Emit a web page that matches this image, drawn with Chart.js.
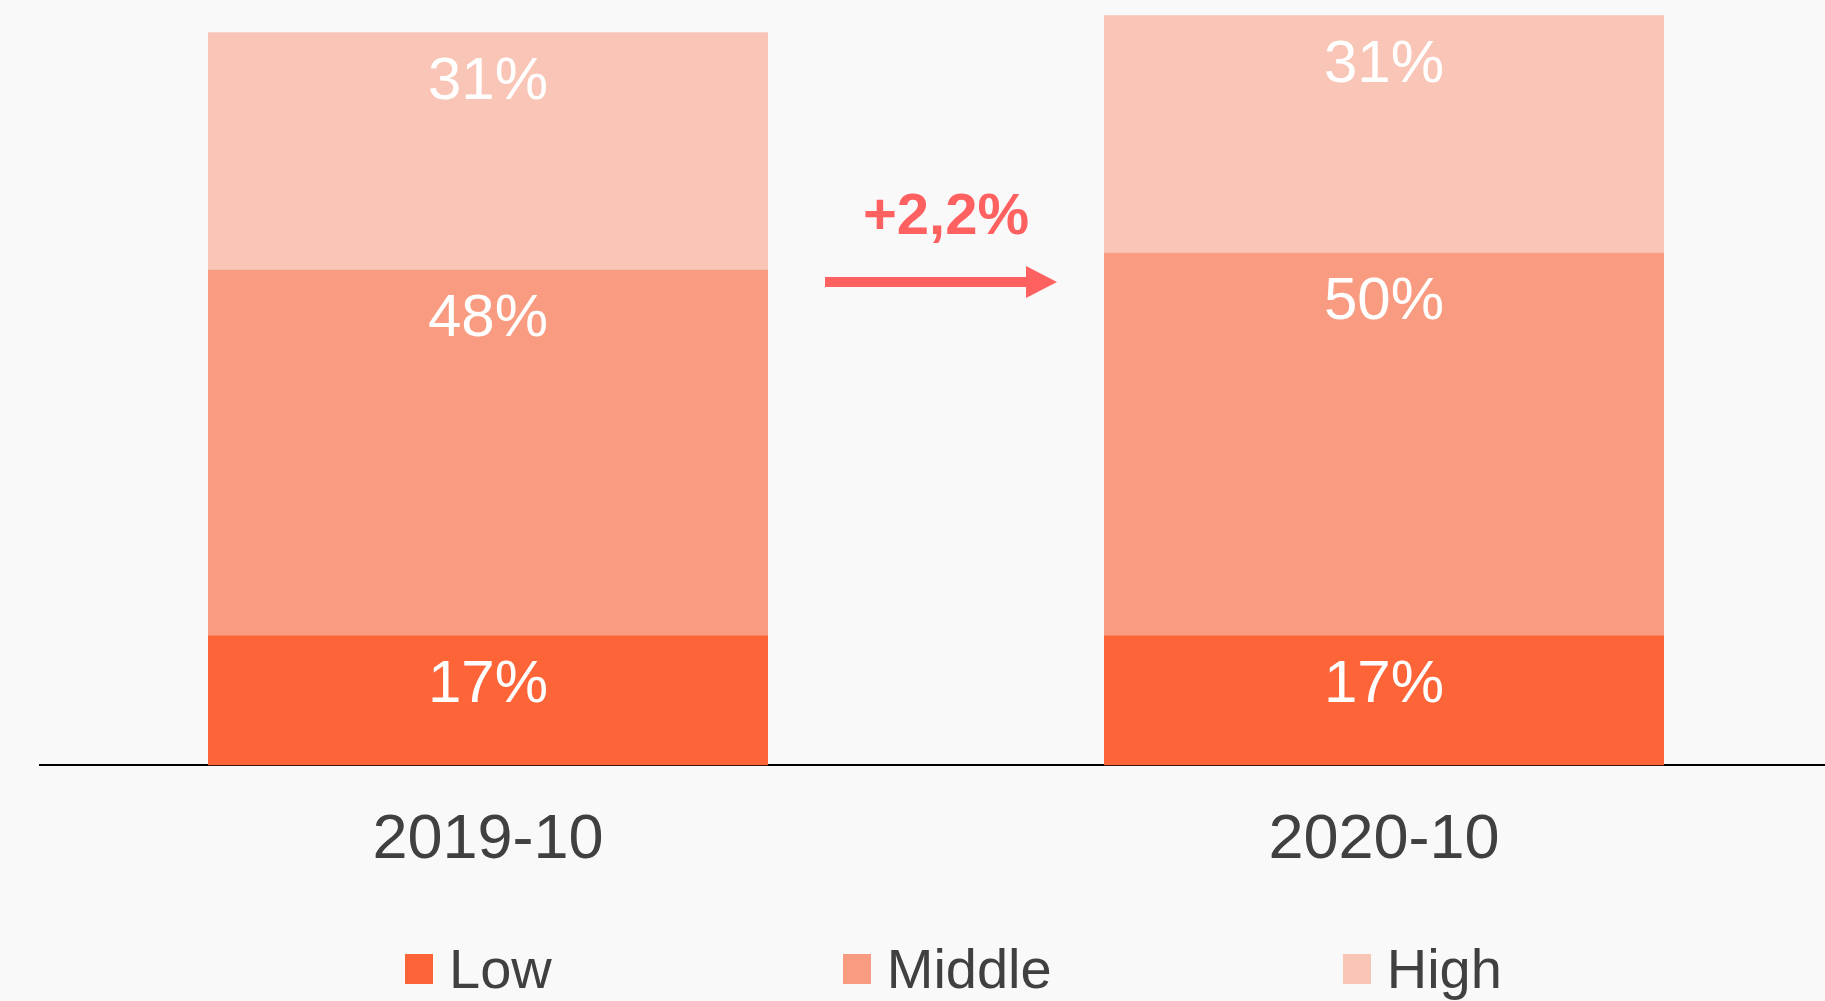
<!DOCTYPE html>
<html>
<head>
<meta charset="utf-8">
<script src="https://cdn.jsdelivr.net/npm/chart.js@4.4.0/dist/chart.umd.min.js"></script>
<style>
    html, body { margin: 0; padding: 0; background: #f9f9f9; }
    #wrap { position: relative; width: 1825px; height: 1001px; overflow: hidden; }
    #legend {
        position: absolute; left: 405px; top: 936px;
        display: flex; align-items: center; gap: 291px;
        font-family: "Liberation Sans", Arial, sans-serif; font-size: 56px; color: #404040;
    }
    #legend .item { display: flex; align-items: center; white-space: nowrap; }
    #legend .box { width: 28px; height: 30px; margin-right: 16px; }
</style>
</head>
<body>
<div id="wrap">
    <canvas id="myChart" width="1835" height="1001"></canvas>
    <div id="legend"></div>
</div>
<script>
// chart data
const categories = ["2019-10", "2020-10"];
const seriesNames = ["Low", "Middle", "High"];
const lowValues = [17, 17];
const middleValues = [47.8, 50.0];
const highValues = [31, 31];
const seriesColors = ["#fd6438", "#f99b80", "#f9c5b7"];

// growth of the middle segment, shown between the bars
const middleChange = "+" + (middleValues[1] - middleValues[0]).toFixed(1).replace(".", ",") + "%";

// white percent labels, near the top of each segment
const segmentLabels = {
    id: "segmentLabels",
    afterDatasetsDraw: function (chart) {
        const ctx = chart.ctx;
        ctx.save();
        ctx.fillStyle = "#ffffff";
        ctx.font = '60px "Liberation Sans", Arial, sans-serif';
        ctx.textAlign = "center";
        ctx.textBaseline = "middle";
        chart.data.datasets.forEach(function (ds, i) {
            chart.getDatasetMeta(i).data.forEach(function (bar, j) {
                const top = Math.min(bar.y, bar.base);
                ctx.fillText(Math.round(ds.data[j]) + "%", bar.x, top + 50);
            });
        });
        ctx.restore();
    }
};

// "+2,2%" with the arrow
const changeArrow = {
    id: "changeArrow",
    afterDraw: function (chart) {
        const ctx = chart.ctx;
        const x = chart.scales.x;
        const mid = (x.getPixelForValue(0) + x.getPixelForValue(1)) / 2;
        ctx.save();
        ctx.fillStyle = "#ff6161";
        ctx.font = 'bold 58px "Liberation Sans", Arial, sans-serif';
        ctx.textAlign = "center";
        ctx.textBaseline = "middle";
        ctx.fillText(middleChange, mid + 10, 218);

        ctx.fillRect(mid - 111, 277, 202, 10);
        ctx.beginPath();
        ctx.moveTo(mid + 90, 266);
        ctx.lineTo(mid + 121, 282);
        ctx.lineTo(mid + 90, 298);
        ctx.closePath();
        ctx.fill();
        ctx.restore();
    }
};

const valueSets = [lowValues, middleValues, highValues];

new Chart(document.getElementById("myChart"), {
    type: "bar",
    data: {
        labels: categories,
        datasets: seriesNames.map(function (name, i) {
            return {
                label: name,
                data: valueSets[i],
                backgroundColor: seriesColors[i],
                borderWidth: 0,
                categoryPercentage: 1,
                barPercentage: 0.625
            };
        })
    },
    options: {
        responsive: false,
        animation: false,
        layout: { padding: { left: 40, right: 3, top: 0, bottom: 86 } },
        plugins: {
            legend: { display: false },
            tooltip: { enabled: false }
        },
        scales: {
            x: {
                stacked: true,
                grid: { display: false, drawTicks: false },
                border: { display: true, color: "#000000", width: 2 },
                ticks: {
                    color: "#404040",
                    padding: 37,
                    font: { family: '"Liberation Sans", Arial, sans-serif', size: 63 }
                }
            },
            y: {
                stacked: true,
                display: false,
                min: 0,
                max: 100
            }
        }
    },
    plugins: [segmentLabels, changeArrow]
});

// html legend
const legend = document.getElementById("legend");
seriesNames.forEach(function (name, i) {
    const item = document.createElement("div");
    item.className = "item";
    item.innerHTML = '<span class="box" style="background:' + seriesColors[i] + '"></span><span>' + name + "</span>";
    legend.appendChild(item);
});
</script>
</body>
</html>
